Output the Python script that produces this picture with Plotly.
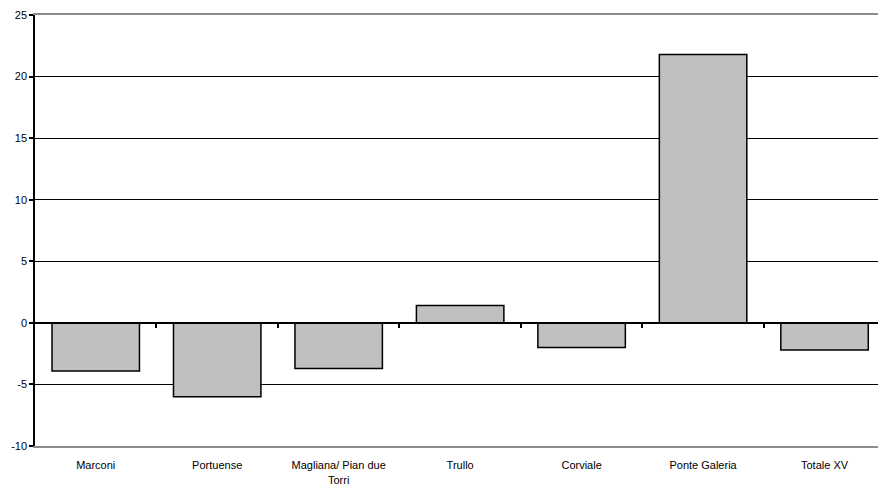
import plotly.graph_objects as go

# Districts of Municipio XV and their percentage change
categories = ["Marconi", "Portuense", "Magliana/ Pian due<br>Torri", "Trullo",
              "Corviale", "Ponte Galeria", "Totale XV"]
values = [-3.9, -6.0, -3.7, 1.4, -2.0, 21.8, -2.2]
y_ticks = [-10, -5, 0, 5, 10, 15, 20, 25]
y_tick_labels = [str(v) for v in y_ticks]  # plain hyphen for negatives

idx = list(range(len(categories)))
boundaries = [i + 0.5 for i in idx[:-1]]
x_range = [-0.5, len(categories) - 0.56]
y_range = [-10, 25]

fig = go.Figure()
fig.add_trace(go.Bar(
    x=idx, y=values, width=0.72,
    marker=dict(color="#C0C0C0", line=dict(color="black", width=1.5)),
    showlegend=False, hoverinfo="skip",
))

font = dict(family="Liberation Sans, Arial, sans-serif", size=11, color="black")

fig.update_layout(
    width=878, height=484,
    margin=dict(l=35, r=0, t=15, b=38),
    paper_bgcolor="white", plot_bgcolor="white",
    font=font,
    bargap=0.28,
    xaxis=dict(
        range=x_range, tickvals=idx, ticktext=categories,
        showgrid=False, zeroline=False, ticks="",
        showline=True, linecolor="#8c8c8c", linewidth=2, mirror=True,
        ticklabelstandoff=8, tickfont=font, automargin=False,
    ),
    xaxis2=dict(
        overlaying="x", anchor="free",
        position=(0 - y_range[0]) / (y_range[1] - y_range[0]),
        range=x_range, tickvals=boundaries, showticklabels=False,
        ticks="outside", ticklen=4, tickwidth=1.5, tickcolor="black",
        showline=True, linecolor="black", linewidth=1.5,
        showgrid=False, zeroline=False, automargin=False,
    ),
    yaxis=dict(
        range=y_range, tickvals=y_ticks, ticktext=y_tick_labels,
        showgrid=True, gridcolor="black", gridwidth=1,
        zeroline=False,
        showline=True, linecolor="black", linewidth=1.5,
        ticks="outside", ticklen=4, tickwidth=1.5, tickcolor="black",
        tickfont=font, automargin=False,
    ),
)

# invisible trace to activate the baseline axis
fig.add_trace(go.Scatter(x=[x_range[0]], y=[0], xaxis="x2", mode="markers",
                         marker=dict(opacity=0), showlegend=False, hoverinfo="skip"))

fig.write_html("out.html")
